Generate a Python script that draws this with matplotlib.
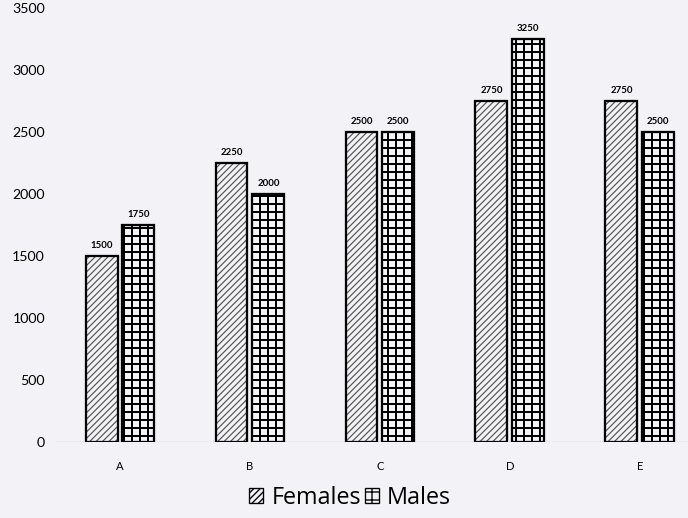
import matplotlib
matplotlib.use("Agg")
import matplotlib.pyplot as plt
import numpy as np
from matplotlib.patches import Patch

categories = ["A", "B", "C", "D", "E"]
females = [1500, 2250, 2500, 2750, 2750]
males = [1750, 2000, 2500, 3250, 2500]
yticks = [0, 500, 1000, 1500, 2000, 2500, 3000, 3500]

plt.rcParams['font.family'] = ['Lato', 'DejaVu Sans']
bg = '#f3f3f7'
DPI = 96
fig = plt.figure(figsize=(688 / DPI, 518 / DPI), dpi=DPI, facecolor=bg)
ax = fig.add_axes([55 / 688, 1 - 442 / 518, 1 - 55 / 688, (442 - 8) / 518])
ax.set_facecolor(bg)

x = np.arange(len(categories))
w = 0.246
off = 0.142

plt.rcParams['hatch.linewidth'] = 0.9
plt.rcParams['hatch.color'] = '#555555'
bf = ax.bar(x - off, females, w, facecolor=bg, edgecolor='black', linewidth=1.7,
            hatch='/////', zorder=3)
for p in bf:
    if hasattr(p, 'set_hatch_linewidth'):
        p.set_hatch_linewidth(0.9)
    p._hatch_color = matplotlib.colors.to_rgba('#555555')

plt.rcParams['hatch.linewidth'] = 1.5
plt.rcParams['hatch.color'] = 'black'
bm = ax.bar(x + off, males, w, facecolor=bg, edgecolor='black', linewidth=1.7,
            hatch='++', zorder=3)
for p in bm:
    if hasattr(p, 'set_hatch_linewidth'):
        p.set_hatch_linewidth(1.5)
    p._hatch_color = matplotlib.colors.to_rgba('black')

for bars, vals in ((bf, females), (bm, males)):
    for b, v in zip(bars, vals):
        ax.annotate(f"{v}", (b.get_x() + b.get_width() / 2, v),
                    xytext=(0, 4.4), textcoords='offset points',
                    ha='center', va='bottom', fontsize=7.2, fontweight='bold')

ax.axhline(0, color='#999999', linestyle=(0, (1, 1)), linewidth=1.0, zorder=2)

ax.set_ylim(0, 3500)
ax.set_xlim(-0.5, 4.37)
ax.set_yticks(yticks)
ax.set_yticklabels([str(t) for t in yticks], fontsize=10.6)
ax.set_xticks(x)
ax.set_xticklabels(categories, fontsize=8.4)
ax.tick_params(axis='y', length=0, pad=7.5)
ax.tick_params(axis='x', length=0, pad=14)
for s in ax.spines.values():
    s.set_visible(False)

plt.rcParams['hatch.linewidth'] = 0.8
h1 = Patch(facecolor=bg, edgecolor='black', hatch='/////', linewidth=1.0)
plt.rcParams['hatch.linewidth'] = 1.0
h2 = Patch(facecolor=bg, edgecolor='black', hatch='++', linewidth=1.0)
leg = fig.legend([h1, h2], ["Females", "Males"], loc='center',
                 bbox_to_anchor=(350 / 688, 1 - 498 / 518), ncol=2, frameon=False,
                 prop={'family': ['Open Sans', 'DejaVu Sans'], 'size': 17.5},
                 handlelength=0.6, handleheight=0.6,
                 handletextpad=0.35, columnspacing=0.15)

fig.savefig("out.png", dpi=DPI, facecolor=bg)
